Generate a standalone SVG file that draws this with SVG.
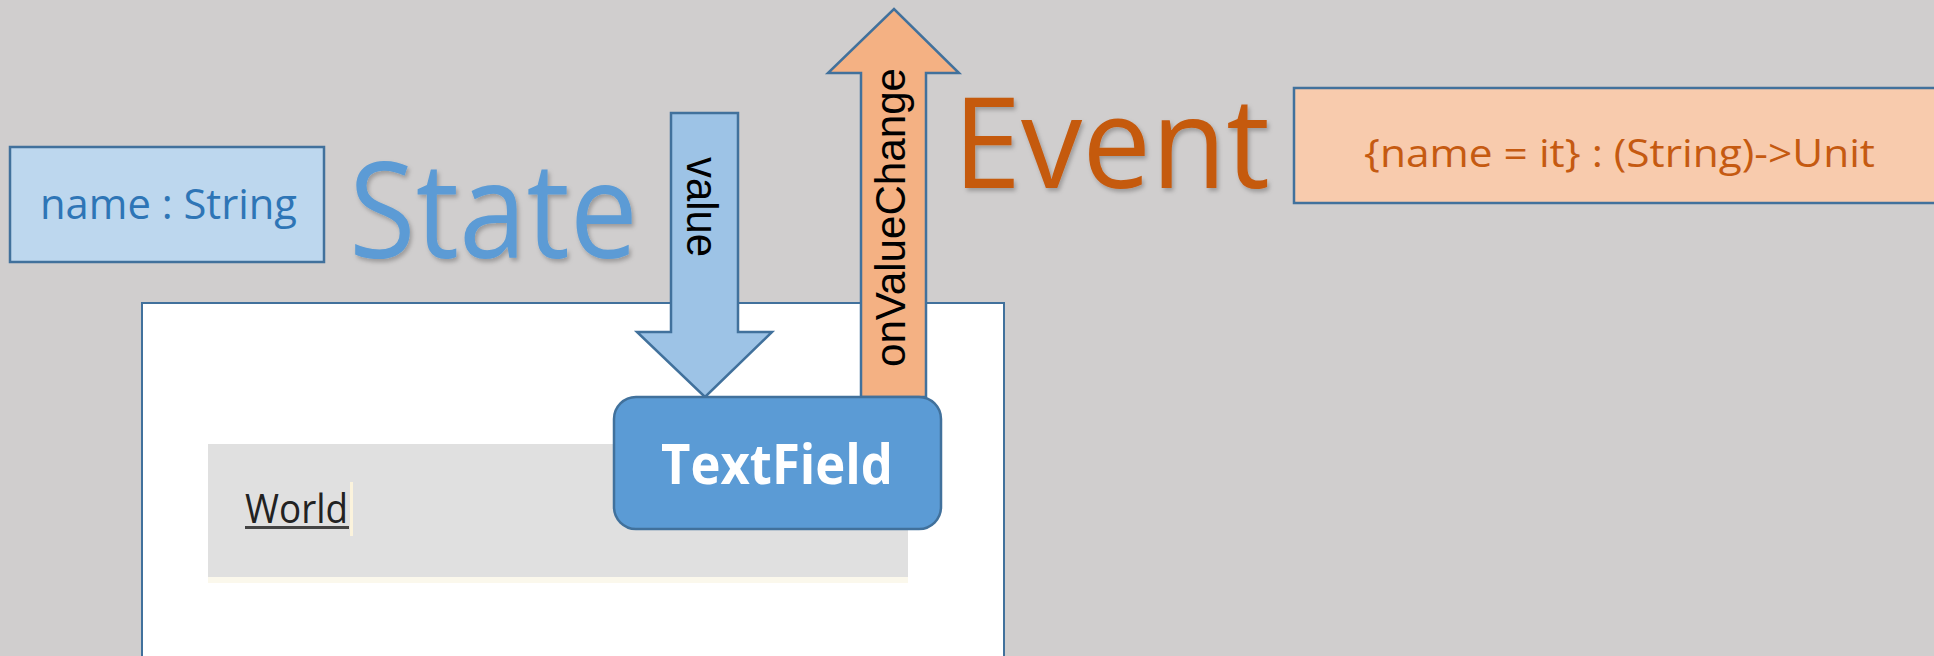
<svg xmlns="http://www.w3.org/2000/svg" width="1934" height="656" viewBox="0 0 1934 656">
<style>
.bg{fill:#D0CECE}
.box{stroke:#41719C;stroke-width:2.5}
.cal{font-family:"Open Sans","Liberation Sans",sans-serif}
.rot{font-family:"Liberation Sans","DejaVu Sans",sans-serif;fill:#000}
</style>
<defs>
<filter id="sh" x="-10%" y="-10%" width="120%" height="130%">
<feDropShadow dx="2" dy="3" stdDeviation="2" flood-color="#000" flood-opacity="0.25"/>
</filter>
</defs>
<rect class="bg" x="0" y="0" width="1934" height="656"/>

<g id="panel">
<rect x="142" y="303" width="862" height="360" fill="#FFFFFF" stroke="#41719C" stroke-width="2"/>
<rect x="208" y="577" width="700" height="6" fill="#FBF8EC"/>
<rect x="208" y="444" width="700" height="133" fill="#E0E0E0"/>
<text x="245" y="523" class="cal" font-size="40" fill="#222" textLength="103" lengthAdjust="spacingAndGlyphs">World</text>
<rect x="245" y="526" width="104" height="3" fill="#444"/>
<rect x="350" y="482" width="3" height="54" fill="#FBF3DC"/>
</g>

<g id="state-box">
<rect class="box" x="10" y="147" width="314" height="115" fill="#BDD7EE"/>
<text x="40" y="219" class="cal" font-size="42" fill="#2E75B6" textLength="257" lengthAdjust="spacingAndGlyphs">name : String</text>
</g>

<g id="state-label">
<text x="349" y="258" class="cal" font-size="133" fill="#5B9BD5" filter="url(#sh)" textLength="289" lengthAdjust="spacingAndGlyphs">State</text>
</g>

<g id="event-label">
<text x="953" y="188" class="cal" font-size="126" fill="#C55A11" filter="url(#sh)" textLength="317" lengthAdjust="spacingAndGlyphs">Event</text>
</g>

<g id="event-box">
<rect class="box" x="1294" y="88" width="650" height="115" fill="#F8CBAD"/>
<text x="1364" y="167" class="cal" font-size="38" fill="#C55A11" textLength="511" lengthAdjust="spacingAndGlyphs">{name = it} : (String)-&gt;Unit</text>
</g>

<g id="connectors">
<g id="value-arrow">
<polygon class="box" points="671,113 738,113 738,332 772,332 705,397 637,332 671,332" fill="#9DC3E6" stroke-linejoin="miter"/>
<text class="rot" font-size="44" transform="translate(687,157) rotate(90)" textLength="100" lengthAdjust="spacingAndGlyphs">value</text>
</g>
<g id="change-arrow">
<polygon class="box" points="861,397 861,73 828,73 894,9 959,73 926,73 926,397" fill="#F4B183"/>
<text class="rot" font-size="43" transform="translate(905,367) rotate(-90)" textLength="299" lengthAdjust="spacingAndGlyphs">onValueChange</text>
</g>
</g>

<g id="textfield">
<rect class="box" x="614" y="397" width="327" height="132" rx="22" ry="22" fill="#5B9BD5"/>
<text x="661" y="484" class="cal" font-size="55" font-weight="bold" fill="#FFFFFF" textLength="232" lengthAdjust="spacingAndGlyphs">TextField</text>
</g>
</svg>
